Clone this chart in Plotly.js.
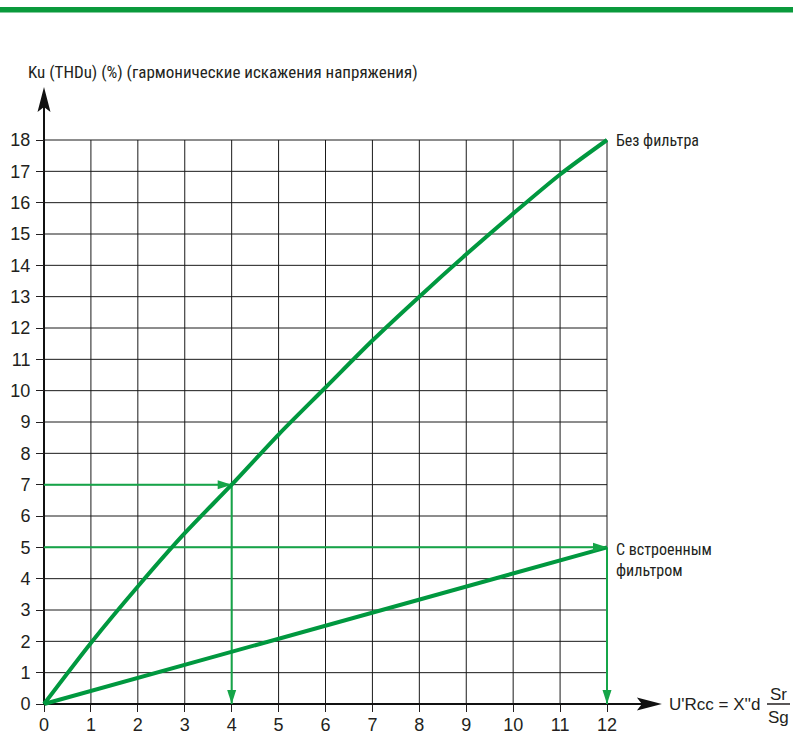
<!DOCTYPE html>
<html><head><meta charset="utf-8">
<script src="https://cdn.plot.ly/plotly-3.0.1.min.js"></script>
<style>html,body{margin:0;padding:0;background:#fff}#chart{width:793px;height:731px}</style>
</head><body><div id="chart"></div>
<script>
// ---- data ----
const xTicks = [0,1,2,3,4,5,6,7,8,9,10,11,12];
const yTicks = [0,1,2,3,4,5,6,7,8,9,10,11,12,13,14,15,16,17,18];
const noFilterX = [0,1,2,3,4,5,6,7,8,9,10,11,12];
const noFilterY = [0,1.95,3.75,5.45,7.0,8.6,10.1,11.6,13.0,14.35,15.65,16.9,18.0];
const withFilterX = [0,12];
const withFilterY = [0,5];
const readX = [4,12];
const readY = [7,5];
const labelNoFilter = 'Без фильтра';
const labelWithFilter = 'С встроенным<br>фильтром';
const yTitle = 'Ku (THDu) (%) (гармонические искажения напряжения)';
const xTitle = "U'Rcc = X''d";
const xFracTop = 'Sr', xFracBottom = 'Sg';
const xAxisEnd = 13.17, yAxisEnd = 19.69;

// ---- geometry ----
const FIG_W = 793, FIG_H = 731;
const M = {l:20, r:120, t:80, b:10};
const PW = FIG_W - M.l - M.r, PH = FIG_H - M.t - M.b;
const ORIGIN = {x:44, y:704};
const SX = 563/12, SY = 564/18;
const xRange = [(M.l - ORIGIN.x)/SX, (M.l + PW - ORIGIN.x)/SX];
const yRange = [(ORIGIN.y - (M.t + PH))/SY, (ORIGIN.y - M.t)/SY];
const pX = px => (px - M.l)/PW;
const pY = py => (M.t + PH - py)/PH;

const GREEN = '#00983f', GREEN_THIN = '#15a548', INK = '#231f20';
const NARROW = 'Liberation Sans Narrow, Arial Narrow, Roboto Condensed, sans-serif';
const SANS = 'Liberation Sans, Arial, Helvetica, sans-serif';

function arrowHead(tx, ty, dx, dy, len, half, notch, color) {
  const nx = -dy, ny = dx;
  const pts = [[0,0],[-len*dx + half*nx, -len*dy + half*ny],[-(len-notch)*dx, -(len-notch)*dy],[-len*dx - half*nx, -len*dy - half*ny]];
  const d = pts.map((p,i) => (i ? 'L' : 'M') + (tx + p[0]/SX) + ',' + (ty - p[1]/SY)).join(' ') + ' Z';
  return {type:'path', xref:'x', yref:'y', path:d, fillcolor:color, line:{width:0}, layer:'above'};
}

const shapes = [];
// grid
xTicks.filter(v => v > 0).forEach(v => shapes.push({type:'line', xref:'x', yref:'y', x0:v, x1:v, y0:0, y1:yTicks[yTicks.length-1], line:{color:'#1a1a1a', width:1}, layer:'below'}));
yTicks.filter(v => v > 0).forEach(v => shapes.push({type:'line', xref:'x', yref:'y', x0:0, x1:xTicks[xTicks.length-1], y0:v, y1:v, line:{color:'#1a1a1a', width:1}, layer:'below'}));
// axes
shapes.push({type:'line', xref:'x', yref:'y', x0:0, x1:xAxisEnd - 15/SX, y0:0, y1:0, line:{color:'#111', width:2}, layer:'below'});
shapes.push({type:'line', xref:'x', yref:'y', x0:0, x1:0, y0:0, y1:yAxisEnd - 15/SY, line:{color:'#111', width:2}, layer:'below'});
shapes.push(arrowHead(xAxisEnd, 0, 1, 0, 25, 6.5, 5, '#111'));
shapes.push(arrowHead(0, yAxisEnd, 0, -1, 25, 6.5, 5, '#111'));
// guide arrows
readX.forEach((xv, i) => {
  shapes.push(arrowHead(xv, readY[i], 1, 0, 14, 4.5, 0, GREEN_THIN));
  shapes.push(arrowHead(xv, 0, 0, 1, 14, 4.5, 0, GREEN_THIN));
});
// top bar
shapes.push({type:'rect', xref:'paper', yref:'paper', x0:pX(0), x1:pX(FIG_W), y0:pY(12.5), y1:pY(7), fillcolor:'#0a9a3c', line:{width:0}});
// fraction bar
shapes.push({type:'line', xref:'paper', yref:'paper', x0:pX(767), x1:pX(790), y0:pY(704), y1:pY(704), line:{color:INK, width:1.5}});

const traces = [];
readX.forEach((xv, i) => {
  traces.push({x:[0, xv], y:[readY[i], readY[i]], mode:'lines', line:{color:GREEN_THIN, width:2}, hoverinfo:'skip'});
  traces.push({x:[xv, xv], y:[readY[i], 0], mode:'lines', line:{color:GREEN_THIN, width:2}, hoverinfo:'skip'});
});
traces.push({x:noFilterX, y:noFilterY, mode:'lines', line:{color:GREEN, width:4, shape:'spline', smoothing:0.8}, hoverinfo:'skip'});
traces.push({x:withFilterX, y:withFilterY, mode:'lines', line:{color:GREEN, width:4}, hoverinfo:'skip'});

const annotations = [
  {xref:'paper', yref:'paper', x:pX(26), y:pY(72), xanchor:'left', yanchor:'middle', text:yTitle, showarrow:false, font:{family:NARROW, size:17, color:INK}},
  {xref:'x', yref:'y', x:noFilterX[noFilterX.length-1], y:noFilterY[noFilterY.length-1], xanchor:'left', yanchor:'middle', xshift:7, yshift:0, text:labelNoFilter, showarrow:false, font:{family:NARROW, size:16, color:INK}},
  {xref:'x', yref:'y', x:withFilterX[1], y:withFilterY[1], xanchor:'left', yanchor:'middle', xshift:7, yshift:-13, text:labelWithFilter, showarrow:false, align:'left', font:{family:NARROW, size:16, color:INK}},
  {xref:'paper', yref:'paper', x:pX(667), y:pY(704), xanchor:'left', yanchor:'middle', text:xTitle, showarrow:false, font:{family:SANS, size:17, color:INK}},
  {xref:'paper', yref:'paper', x:pX(778), y:pY(694), xanchor:'center', yanchor:'middle', text:xFracTop, showarrow:false, font:{family:SANS, size:17, color:INK}},
  {xref:'paper', yref:'paper', x:pX(778), y:pY(717), xanchor:'center', yanchor:'middle', text:xFracBottom, showarrow:false, font:{family:SANS, size:17, color:INK}}
];

const axisCommon = {showgrid:false, zeroline:false, showline:false, ticks:'outside', tickwidth:1, tickcolor:INK, tickmode:'array', tickfont:{family:SANS, size:18, color:INK}, fixedrange:true};

const layout = {
  width:FIG_W, height:FIG_H, margin:M, showlegend:false,
  paper_bgcolor:'#fff', plot_bgcolor:'rgba(0,0,0,0)',
  xaxis: Object.assign({}, axisCommon, {range:xRange, anchor:'free', position:pY(ORIGIN.y), tickvals:xTicks, ticktext:xTicks.map(String), ticklen:7, ticklabelstandoff:-3}),
  yaxis: Object.assign({}, axisCommon, {range:yRange, anchor:'free', position:pX(ORIGIN.x), tickvals:yTicks, ticktext:yTicks.map(String), ticklen:8, ticklabelstandoff:2}),
  shapes:shapes, annotations:annotations
};

Plotly.newPlot('chart', traces, layout, {displayModeBar:false, staticPlot:true});
</script>
</body></html>
